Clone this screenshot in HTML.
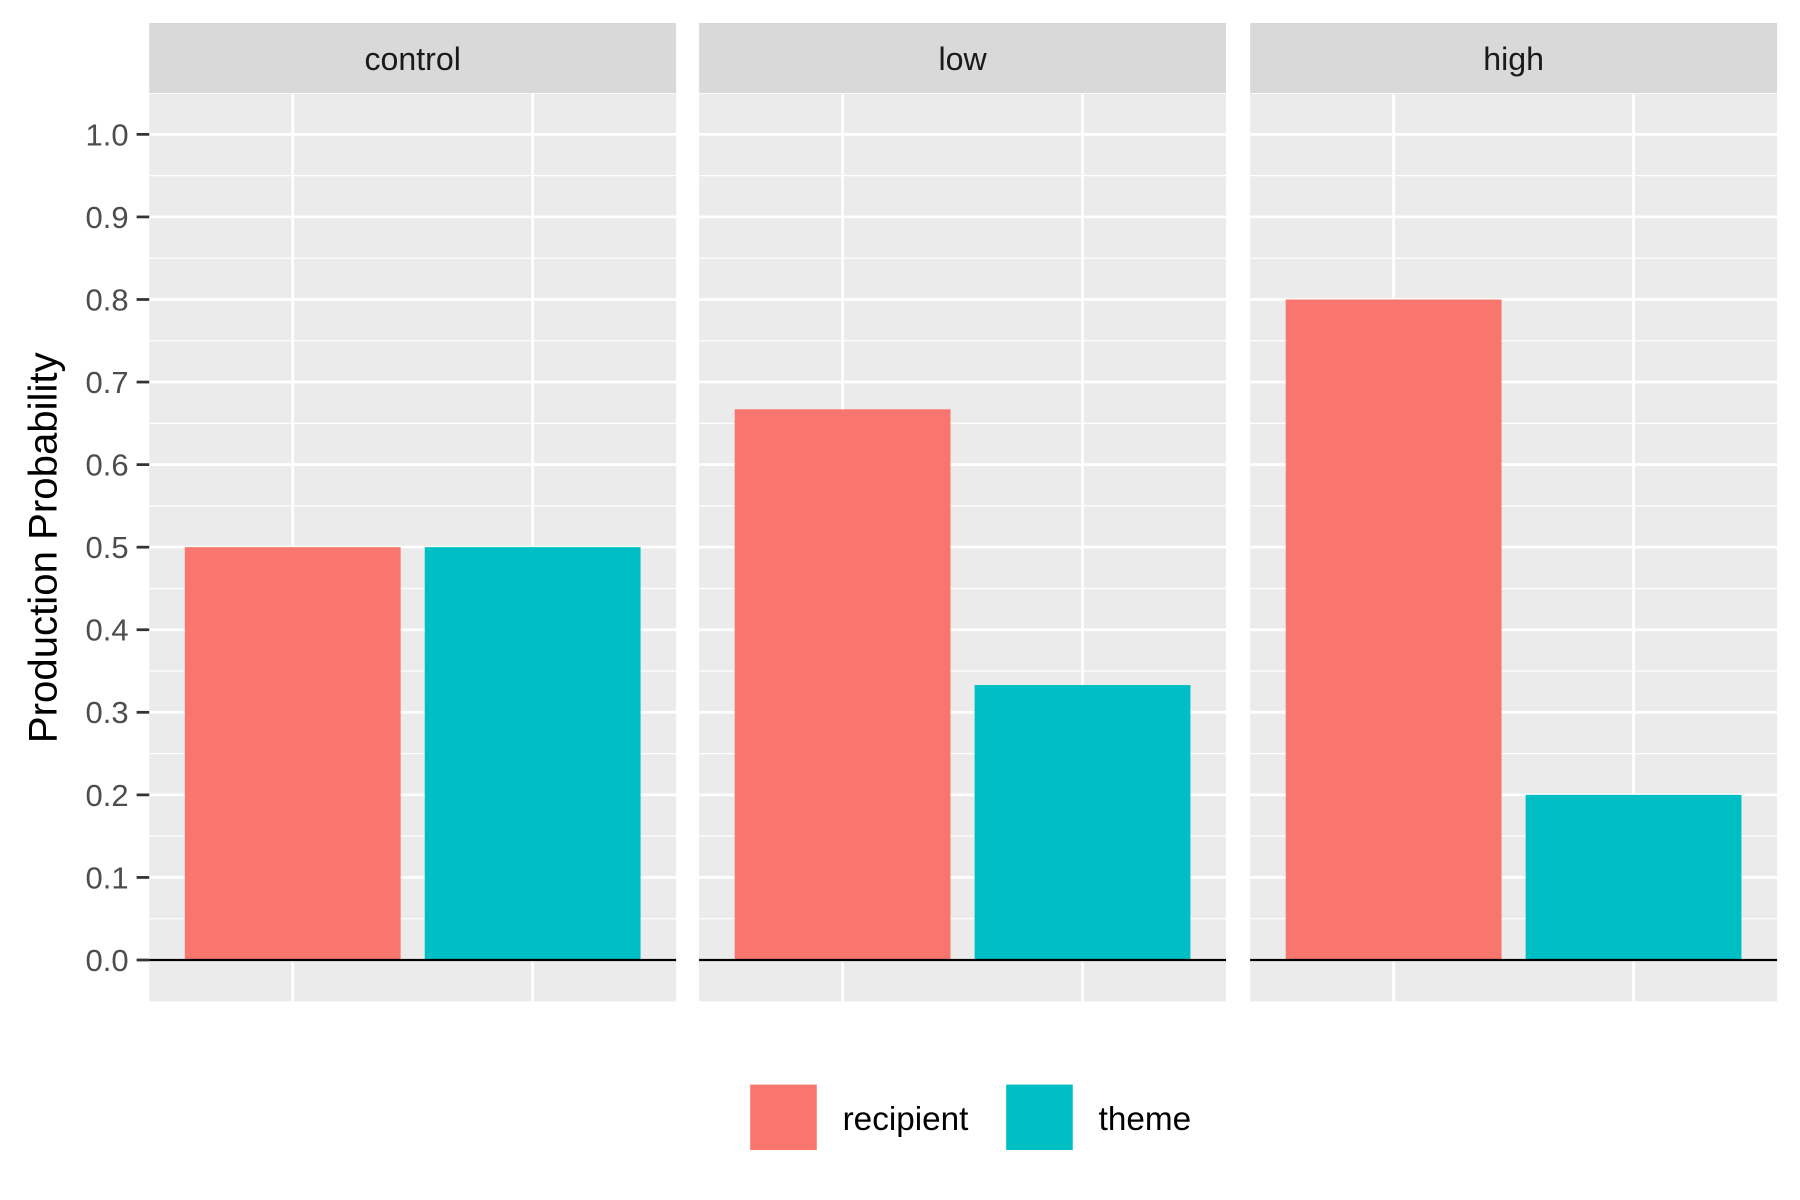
<!DOCTYPE html>
<html><head><meta charset="utf-8"><style>
html,body{margin:0;padding:0;background:#fff;}
svg{display:block;font-family:"Liberation Sans",Arial,sans-serif;}
</style></head><body>
<svg id="chart" width="1800" height="1200" viewBox="0 0 1568 1045" preserveAspectRatio="none" xmlns="http://www.w3.org/2000/svg"></svg>
<script>
const facets = ["control","low","high"];
const seriesNames = ["recipient","theme"];
const recipientValues = [0.5, 0.667, 0.8];
const themeValues = [0.5, 0.333, 0.2];
const yTicks = [0,0.1,0.2,0.3,0.4,0.5,0.6,0.7,0.8,0.9,1.0];
const tickLabels = ["0.0","0.1","0.2","0.3","0.4","0.5","0.6","0.7","0.8","0.9","1.0"];
const colors = ["#F8766D","#00BFC4"];

const NS="http://www.w3.org/2000/svg";
const svg=document.getElementById('chart');
function el(tag,attrs,parent){const e=document.createElementNS(NS,tag);for(const k in attrs)e.setAttribute(k,attrs[k]);(parent||svg).appendChild(e);return e;}
const panelLefts=[130,609,1089], panelW=459, panelTop=81, panelBot=872, stripTop=20;
const y=v=>836-v*719;
const xPos=(p,i)=>panelLefts[p]+125+i*209;
const barW=188;

facets.forEach((f,p)=>{
  const L=panelLefts[p];
  const g=el('g',{});
  
  
  el('rect',{x:L,y:panelTop,width:panelW,height:panelBot-panelTop,fill:'#EBEBEB'},g);
  for(let v=0.05;v<1.05;v+=0.1){el('line',{x1:L,x2:L+panelW,y1:y(v),y2:y(v),stroke:'#fff','stroke-width':1.1},g);}
  yTicks.forEach(v=>el('line',{x1:L,x2:L+panelW,y1:y(v),y2:y(v),stroke:'#fff','stroke-width':2.4},g));
  [0,1].forEach(i=>el('line',{x1:xPos(p,i),x2:xPos(p,i),y1:panelTop,y2:panelBot,stroke:'#fff','stroke-width':2.4},g));
  const vals=[recipientValues[p],themeValues[p]];
  vals.forEach((v,i)=>{
    const r=el('rect',{x:xPos(p,i)-barW/2,y:y(v),width:barW,height:y(0)-y(v),fill:colors[i]},g);
    
    
  });
  el('line',{x1:L,x2:L+panelW,y1:y(0),y2:y(0),stroke:'#000','stroke-width':2},g);
  const s=el('rect',{x:L,y:stripTop,width:panelW,height:panelTop-stripTop,fill:'#D9D9D9'},g);
  
  
  const t=el('text',{x:L+panelW/2,y:61,'text-anchor':'middle','font-size':28,fill:'#1A1A1A'},g);
  t.textContent=f;
  
  
});
yTicks.forEach((v,i)=>{
  el('line',{x1:119,x2:130,y1:y(v),y2:y(v),stroke:'#333','stroke-width':2.4});
  const t=el('text',{x:112,y:y(v)+9.5,'text-anchor':'end','font-size':27,fill:'#4D4D4D'});
  t.textContent=tickLabels[i];
  
  
});
const yt=el('text',{x:0,y:0,transform:'translate(49,477) rotate(-90)','text-anchor':'middle','font-size':35,fill:'#000'});
yt.textContent='Production Probability';


const legendKeyX=[653,876], legendTextX=[734,957];
seriesNames.forEach((n,i)=>{
  const k=el('rect',{x:legendKeyX[i],y:944,width:59,height:58,fill:colors[i],stroke:'#fff','stroke-width':1});
  
  
  const t=el('text',{x:legendTextX[i],y:984,'font-size':29,fill:'#000'});
  t.textContent=n;
  
  
});
</script>
</body></html>
